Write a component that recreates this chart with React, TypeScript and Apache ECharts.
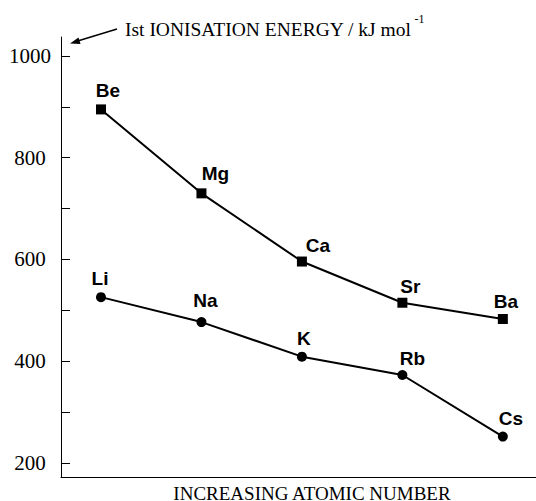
import React, { useEffect, useRef } from "react";
import * as echarts from "echarts";

// Positions along "increasing atomic number" (group order)
const positions = [1, 2, 3, 4, 5];

const group2Names = ["Be", "Mg", "Ca", "Sr", "Ba"];
const group2Values = [895, 730, 596, 515, 483];

const group1Names = ["Li", "Na", "K", "Rb", "Cs"];
const group1Values = [526, 477, 409, 373, 252];

const tickValues = [200, 300, 400, 500, 600, 700, 800, 900, 1000];
const labelValues = [200, 400, 600, 800, 1000];

const yTitle = "Ist IONISATION ENERGY / kJ mol";
const yTitleSup = "-1";
const xTitle = "INCREASING ATOMIC NUMBER";

// label nudges (styling only)
const group2Offsets = [[7, 0], [14, -1], [16, 2], [8, 2], [3, 1]];
const group1Offsets = [[-1, 0], [4, -3], [2, 0], [10, 2], [8, 0]];

const labelStyle = {
  show: true,
  position: "top",
  distance: 4,
  color: "#000",
  fontFamily: "Liberation Sans, Arial, sans-serif",
  fontWeight: "bold",
  fontSize: 19,
};

function buildData(names: string[], values: number[], offsets: number[][]) {
  return values.map((v, i) => ({
    value: [positions[i], v],
    name: names[i],
    label: { ...labelStyle, formatter: names[i], offset: offsets[i] },
  }));
}

export default function App() {
  const ref = useRef<HTMLDivElement>(null);
  useEffect(() => {
    document.body.style.margin = "0";
    const chart = echarts.init(ref.current!, null, { renderer: "svg" });
    const serif = "Liberation Serif, Times New Roman, serif";
    chart.setOption({
      animation: false,
      backgroundColor: "#fff",
      grid: {
        left: 61,
        right: 0,
        top: 37,
        bottom: 24,
        containLabel: false,
        outerBoundsMode: "none",
      },
      xAxis: {
        type: "value",
        min: 0.602,
        max: 5.33,
        axisLine: { show: true, lineStyle: { color: "#000", width: 1 } },
        axisTick: { show: false },
        axisLabel: { show: false },
        splitLine: { show: false },
        name: xTitle,
        nameLocation: "middle",
        nameGap: 9,
        nameTextStyle: {
          fontFamily: serif,
          fontSize: 19,
          lineHeight: 14,
          color: "#000",
          padding: [0, 0, 0, 27],
        },
      },
      yAxis: {
        type: "value",
        min: 172.5,
        max: 1037.3,
        axisLine: { show: true, lineStyle: { color: "#000", width: 1 } },
        axisTick: {
          show: true,
          inside: true,
          length: 9,
          customValues: tickValues,
          lineStyle: { color: "#000", width: 1 },
        },
        axisLabel: {
          show: true,
          customValues: labelValues,
          formatter: (v: number) => String(v),
          margin: 31,
          align: "center",
          fontFamily: serif,
          fontSize: 21,
          color: "#000",
        },
        splitLine: { show: false },
      },
      graphic: [
        {
          type: "text",
          x: 125,
          y: 13,
          style: {
            text: `{m|${yTitle}}{s|${yTitleSup}}`,
            rich: {
              m: { fontFamily: serif, fontSize: 19.5, color: "#000", lineHeight: 26, verticalAlign: "bottom" },
              s: { fontFamily: serif, fontSize: 12, color: "#000", lineHeight: 13, verticalAlign: "top", padding: [0, 0, 0, 3] },
            },
          },
        },
        {
          type: "line",
          shape: { x1: 117, y1: 29, x2: 76, y2: 41.5 },
          style: { stroke: "#000", lineWidth: 1.5 },
        },
        {
          type: "polygon",
          shape: { points: [[70, 43.5], [78.5, 37.5], [80.5, 44]] },
          style: { fill: "#000" },
        },
      ],
      series: [
        {
          type: "line",
          data: buildData(group2Names, group2Values, group2Offsets),
          symbol: "rect",
          symbolSize: 10,
          lineStyle: { color: "#000", width: 2 },
          itemStyle: { color: "#000" },
        },
        {
          type: "line",
          data: buildData(group1Names, group1Values, group1Offsets),
          symbol: "circle",
          symbolSize: 10,
          lineStyle: { color: "#000", width: 2 },
          itemStyle: { color: "#000" },
        },
      ],
    });
    return () => chart.dispose();
  }, []);
  return (
    <div
      ref={ref}
      style={{ position: "fixed", left: 0, top: 0, width: 536, height: 501 }}
    />
  );
}
